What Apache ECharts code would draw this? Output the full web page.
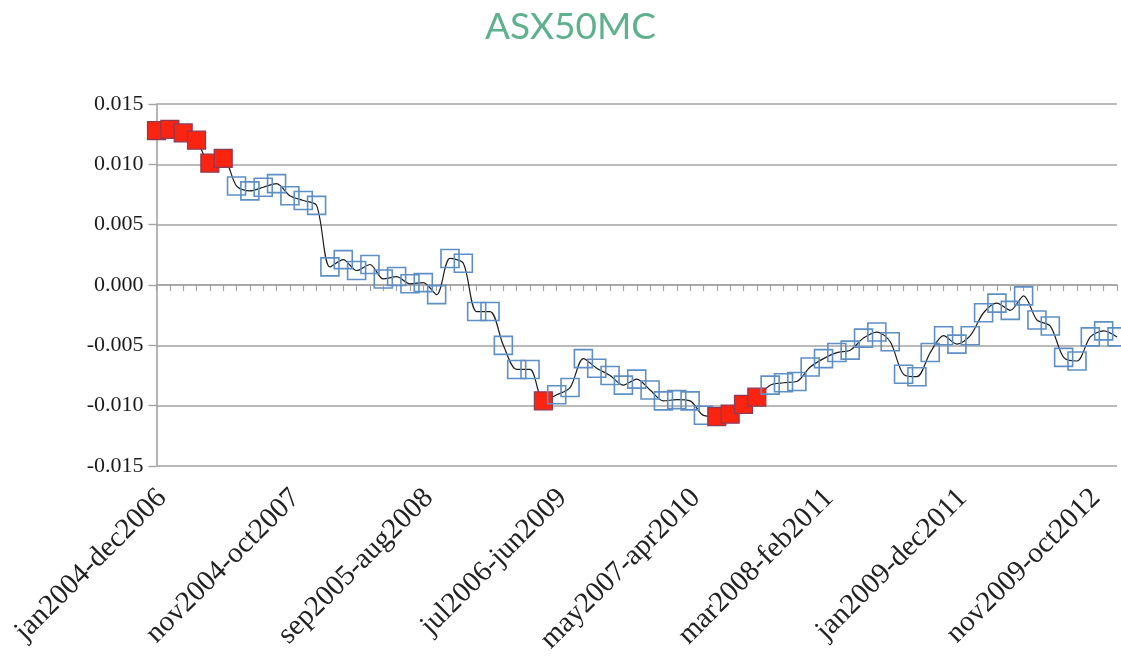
<!DOCTYPE html>
<html>
<head>
<meta charset="utf-8">
<title>ASX50MC</title>
<script src="https://cdn.jsdelivr.net/npm/echarts@6/dist/echarts.min.js"></script>
<style>
  html, body { margin: 0; padding: 0; background: #ffffff; overflow: hidden; }
  #chart { width: 1121px; height: 659px; }
</style>
</head>
<body>
<div id="chart"></div>
<script>
// 36-month rolling windows, one per month
const windows = [
  'jan2004-dec2006', 'feb2004-jan2007', 'mar2004-feb2007', 'apr2004-mar2007', 'may2004-apr2007',
  'jun2004-may2007', 'jul2004-jun2007', 'aug2004-jul2007', 'sep2004-aug2007', 'oct2004-sep2007',
  'nov2004-oct2007', 'dec2004-nov2007', 'jan2005-dec2007', 'feb2005-jan2008', 'mar2005-feb2008',
  'apr2005-mar2008', 'may2005-apr2008', 'jun2005-may2008', 'jul2005-jun2008', 'aug2005-jul2008',
  'sep2005-aug2008', 'oct2005-sep2008', 'nov2005-oct2008', 'dec2005-nov2008', 'jan2006-dec2008',
  'feb2006-jan2009', 'mar2006-feb2009', 'apr2006-mar2009', 'may2006-apr2009', 'jun2006-may2009',
  'jul2006-jun2009', 'aug2006-jul2009', 'sep2006-aug2009', 'oct2006-sep2009', 'nov2006-oct2009',
  'dec2006-nov2009', 'jan2007-dec2009', 'feb2007-jan2010', 'mar2007-feb2010', 'apr2007-mar2010',
  'may2007-apr2010', 'jun2007-may2010', 'jul2007-jun2010', 'aug2007-jul2010', 'sep2007-aug2010',
  'oct2007-sep2010', 'nov2007-oct2010', 'dec2007-nov2010', 'jan2008-dec2010', 'feb2008-jan2011',
  'mar2008-feb2011', 'apr2008-mar2011', 'may2008-apr2011', 'jun2008-may2011', 'jul2008-jun2011',
  'aug2008-jul2011', 'sep2008-aug2011', 'oct2008-sep2011', 'nov2008-oct2011', 'dec2008-nov2011',
  'jan2009-dec2011', 'feb2009-jan2012', 'mar2009-feb2012', 'apr2009-mar2012', 'may2009-apr2012',
  'jun2009-may2012', 'jul2009-jun2012', 'aug2009-jul2012', 'sep2009-aug2012', 'oct2009-sep2012',
  'nov2009-oct2012', 'dec2009-nov2012', 'jan2010-dec2012'
];

// Estimated coefficient for each window
const coefficient = [
   0.0128,  0.0129,  0.0126,  0.0120,  0.0101,  0.0105,  0.0082,  0.0078,  0.0081,  0.0084,
   0.0074,  0.0070,  0.0066,  0.0015,  0.0021,  0.0012,  0.0017,  0.0005,  0.0007,  0.0001,
   0.0002, -0.0008,  0.0022,  0.0018, -0.0022, -0.0022, -0.0050, -0.0070, -0.0070, -0.0096,
  -0.0091, -0.0085, -0.0061, -0.0069, -0.0075, -0.0083, -0.0078, -0.0087, -0.0096, -0.0095,
  -0.0096, -0.0108, -0.0109, -0.0107, -0.0099, -0.0093, -0.0083, -0.0081, -0.0080, -0.0068,
  -0.0061, -0.0056, -0.0054, -0.0044, -0.0039, -0.0047, -0.0074, -0.0076, -0.0056, -0.0042,
  -0.0049, -0.0042, -0.0023, -0.0015, -0.0021, -0.0009, -0.0029, -0.0034, -0.0060, -0.0063,
  -0.0043, -0.0038, -0.0043
];

// Windows whose estimate is significant (filled red markers)
const significant = [0, 1, 2, 3, 4, 5, 29, 42, 43, 44, 45];

// Value-axis ticks
const yTicks = { min: -0.015, max: 0.015, step: 0.005 };

const hollowStyle = { color: 'rgba(255,255,255,0)', borderColor: '#5d8fc5', borderWidth: 1.6 };
const redStyle = { color: '#fb2410', borderColor: '#8c3a55', borderWidth: 1.2 };

const points = coefficient.map((v, i) => ({
  value: v,
  itemStyle: significant.includes(i) ? redStyle : hollowStyle
}));

const gridGrey = '#a3a3a3';
const serif = '"Liberation Serif", "DejaVu Serif", serif';

const chart = echarts.init(document.getElementById('chart'), null, { renderer: 'canvas' });
chart.setOption({
  animation: false,
  backgroundColor: '#ffffff',
  title: {
    text: 'ASX50MC',
    left: 480,
    top: 4,
    textStyle: {
      fontFamily: 'Lato, "Noto Sans", sans-serif',
      fontWeight: 'normal',
      fontSize: 37,
      color: '#5fb08c'
    }
  },
  grid: { left: 156.5, right: 4, top: 104, bottom: 193 },
  xAxis: [
    {
      type: 'category',
      data: windows,
      boundaryGap: false,
      position: 'bottom',
      axisLine: { show: false, onZero: false },
      axisTick: { show: false },
      splitLine: { show: false },
      axisLabel: {
        interval: 9,
        rotate: 45,
        margin: 22,
        verticalAlign: 'top',
        lineHeight: 16,
        fontFamily: serif,
        fontSize: 29,
        color: '#222222'
      }
    },
    {
      type: 'category',
      data: windows,
      boundaryGap: false,
      position: 'bottom',
      axisLine: { show: true, onZero: true, lineStyle: { color: gridGrey, width: 1.6 } },
      axisTick: { show: true, interval: 0, length: 6, lineStyle: { color: gridGrey, width: 1.2 } },
      axisLabel: { show: false },
      splitLine: { show: false }
    }
  ],
  yAxis: {
    type: 'value',
    min: yTicks.min,
    max: yTicks.max,
    interval: yTicks.step,
    axisLine: { show: true, lineStyle: { color: gridGrey, width: 1.6 } },
    axisTick: { show: true, length: 8, lineStyle: { color: gridGrey, width: 1.4 } },
    splitLine: { show: true, lineStyle: { color: gridGrey, width: 1.6 } },
    axisLabel: {
      margin: 13,
      fontFamily: serif,
      fontSize: 22,
      color: '#1a1a1a',
      formatter: v => v.toFixed(3)
    }
  },
  series: [
    {
      type: 'line',
      xAxisIndex: 0,
      data: points,
      smooth: 0.3,
      clip: false,
      symbol: 'rect',
      symbolSize: 18,
      showSymbol: true,
      showAllSymbol: true,
      lineStyle: { color: '#1c1c1c', width: 1.2 },
      itemStyle: hollowStyle,
      z: 3
    }
  ]
});
</script>
</body>
</html>
